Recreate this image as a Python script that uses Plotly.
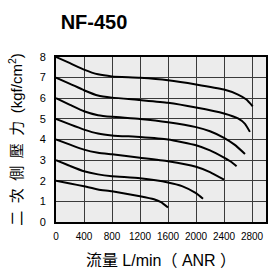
import plotly.graph_objects as go

# Flow (L/min ANR) vs secondary pressure (kgf/cm2) curves
a_x = [0, 200, 400, 600, 800, 1200, 1600, 2000, 2400, 2600, 2720, 2810]
a_y = [8.0, 7.7, 7.39, 7.16, 7.06, 6.99, 6.87, 6.67, 6.42, 6.18, 5.94, 5.61]
b_x = [0, 200, 400, 600, 800, 1200, 1600, 2000, 2400, 2600, 2700, 2770]
b_y = [7.0, 6.7, 6.39, 6.13, 6.03, 5.91, 5.78, 5.55, 5.26, 5.02, 4.76, 4.37]
c_x = [0, 200, 400, 600, 800, 1200, 1600, 2000, 2200, 2400, 2550, 2700]
c_y = [6.0, 5.68, 5.37, 5.18, 5.1, 5.0, 4.84, 4.6, 4.4, 4.08, 3.75, 3.3]
d_x = [0, 200, 400, 600, 800, 1200, 1600, 2000, 2200, 2400, 2500, 2580]
d_y = [5.0, 4.73, 4.48, 4.29, 4.2, 4.12, 4.0, 3.72, 3.47, 3.12, 2.92, 2.7]
e_x = [0, 200, 400, 600, 800, 1200, 1600, 2000, 2200, 2400]
e_y = [4.0, 3.75, 3.51, 3.36, 3.28, 3.12, 2.95, 2.68, 2.42, 2.05]
f_x = [0, 200, 400, 600, 800, 1200, 1600, 1800, 2000, 2100]
f_y = [3.0, 2.72, 2.46, 2.31, 2.22, 2.12, 1.92, 1.74, 1.4, 1.13]
g_x = [0, 200, 400, 600, 800, 1200, 1400, 1500, 1600]
g_y = [2.0, 1.87, 1.73, 1.58, 1.49, 1.25, 1.1, 0.96, 0.7]

x_ticks = [0, 400, 800, 1200, 1600, 2000, 2400, 2800]
y_ticks = [0, 1, 2, 3, 4, 5, 6, 7, 8]

series = [(a_x, a_y), (b_x, b_y), (c_x, c_y), (d_x, d_y),
          (e_x, e_y), (f_x, f_y), (g_x, g_y)]

fig = go.Figure()
for xs, ys in series:
    fig.add_trace(go.Scatter(x=xs, y=ys, mode="lines",
                             line=dict(color="black", width=2, shape="spline", smoothing=0.5),
                             showlegend=False, hoverinfo="skip"))

font_fam = "Liberation Sans, Arial, Noto Sans CJK TC"
sp = "\u2002"

fig.update_layout(
    width=280, height=272,
    margin=dict(l=56, r=14, t=57, b=50),
    paper_bgcolor="white",
    plot_bgcolor="#ececec",
    font=dict(family=font_fam, color="black"),
    title=dict(text="<b>NF-450</b>", x=94/280, xref="container", xanchor="center",
               y=1 - 22/272, yref="container", yanchor="middle",
               font=dict(size=20, family=font_fam, color="black")),
)

fig.update_xaxes(
    range=[0, 3000], tickvals=x_ticks, ticktext=[str(v) for v in x_ticks],
    showgrid=True, gridcolor="#3a3a3a", gridwidth=1,
    showline=True, linecolor="black", linewidth=2, mirror=True,
    zeroline=False, ticks="", tickfont=dict(size=10), automargin=False,
    ticklabelstandoff=4,
    title=dict(text="流量 L/min（ ANR ）", font=dict(size=16), standoff=14),
)
fig.update_yaxes(
    range=[0, 8], tickvals=y_ticks,
    showgrid=True, gridcolor="#3a3a3a", gridwidth=1,
    showline=True, linecolor="black", linewidth=2, mirror=True,
    zeroline=False, ticks="", tickfont=dict(size=11), automargin=False,
    ticklabelstandoff=6,
    title=dict(text=sp.join("二次側壓力") + sp + "(kgf/cm<sup>2</sup>)",
               font=dict(size=15), standoff=13),
)

fig.write_html("out.html", config={"displayModeBar": False},
               post_script="document.body.style.margin='0';")
